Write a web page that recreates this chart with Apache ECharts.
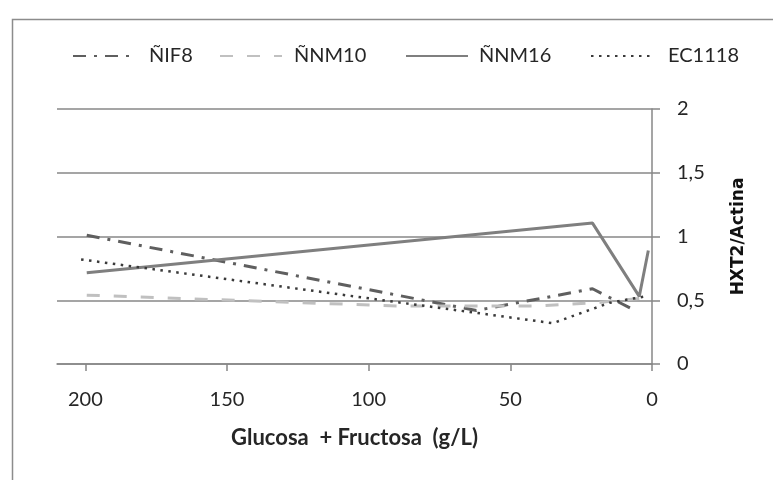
<!DOCTYPE html>
<html>
<head>
<meta charset="utf-8">
<script src="https://cdn.jsdelivr.net/npm/echarts@6/dist/echarts.min.js"></script>
<style>
html,body{margin:0;padding:0;background:#fff;}
#chart{width:773px;height:480px;}
</style>
</head>
<body>
<div id="chart"></div>
<script>
// Series names
const seriesNames = ['ÑIF8', 'ÑNM10', 'ÑNM16', 'EC1118'];
// X = Glucosa + Fructosa (g/L), Y = HXT2/Actina
const nif8X = [199.5, 62, 21, 6];
const nif8Y = [1.01, 0.42, 0.59, 0.42];
const nnm10X = [199.5, 90, 40, 20, 2];
const nnm10Y = [0.54, 0.455, 0.455, 0.48, 0.52];
const nnm16X = [199.5, 21, 4.5, 1.3];
const nnm16Y = [0.715, 1.105, 0.53, 0.89];
const ec1118X = [201.5, 35, 15, 2.5];
const ec1118Y = [0.82, 0.32, 0.48, 0.53];
// Axis ticks
const xTicks = [0, 50, 100, 150, 200];
const yTicks = [0, 0.5, 1, 1.5, 2];

function pairs(xs, ys) { return xs.map((x, i) => [x, ys[i]]); }

const font = 'Lato, "Open Sans", sans-serif';
const gridColor = '#878787';
const textColor = '#262626';

const chart = echarts.init(document.getElementById('chart'), null, {renderer: 'canvas'});

const styles = [
  {color: '#5f5f5f', width: 3, type: [13, 8, 3, 8]},
  {color: '#c0c0c0', width: 3, type: [13, 14]},
  {color: '#7f7f7f', width: 3, type: 'solid'},
  {color: '#3a3a3a', width: 2.5, type: [2.5, 5.5]}
];
const data = [pairs(nif8X, nif8Y), pairs(nnm10X, nnm10Y), pairs(nnm16X, nnm16Y), pairs(ec1118X, ec1118Y)];
const legendLefts = [67, 214, 400, 585];
const legendPads = [9, 7, 6, 10];

const option = {
  backgroundColor: '#fff',
  animation: false,
  graphic: [{
    type: 'rect', left: 10, top: 17, silent: true,
    shape: {width: 800, height: 500},
    style: {fill: 'none', stroke: '#8c8c8c', lineWidth: 1.5}
  }],
  legend: seriesNames.map((n, i) => ({
    data: [n], left: legendLefts[i], top: 41,
    itemWidth: 62, itemHeight: 14,
    itemStyle: {opacity: 0},
    textStyle: {fontFamily: font, fontSize: 20, color: textColor, padding: [0, 0, 8, legendPads[i]]}
  })),
  grid: {left: 57, right: 121, top: 109, bottom: 116, containLabel: false},
  xAxis: {
    type: 'value', inverse: true, min: 0, max: 210,
    name: 'Glucosa  + Fructosa  (g/L)', nameLocation: 'middle', nameGap: 63,
    nameTextStyle: {fontFamily: font, fontSize: 22, fontWeight: 'bold', color: textColor},
    axisLine: {show: true, lineStyle: {color: gridColor, width: 1.5}},
    axisTick: {show: true, length: 7, customValues: xTicks, lineStyle: {color: gridColor, width: 1.5}},
    axisLabel: {customValues: xTicks, margin: 26, fontFamily: font, fontSize: 20, color: textColor},
    splitLine: {show: false}
  },
  yAxis: {
    type: 'value', position: 'right', min: 0, max: 2, interval: 0.5,
    name: 'HXT2/Actina', nameLocation: 'middle', nameRotate: 90, nameGap: 78,
    nameTextStyle: {fontFamily: '"DejaVu Sans", sans-serif', fontSize: 17, fontWeight: 'bold', color: '#111'},
    axisLine: {show: true, lineStyle: {color: gridColor, width: 1.5}},
    axisTick: {show: true, length: 8, lineStyle: {color: gridColor, width: 1.5}},
    axisLabel: {margin: 25, fontFamily: font, fontSize: 20, color: textColor,
      formatter: v => String(v).replace('.', ',')},
    splitLine: {show: true, lineStyle: {color: gridColor, width: 1.5}}
  },
  series: seriesNames.map((n, i) => ({
    name: n, type: 'line', data: data[i], showSymbol: false, symbol: 'none',
    lineStyle: {color: styles[i].color, width: styles[i].width, type: styles[i].type},
    itemStyle: {color: styles[i].color},
    z: 3 + i
  }))
};
chart.setOption(option);
</script>
</body>
</html>
